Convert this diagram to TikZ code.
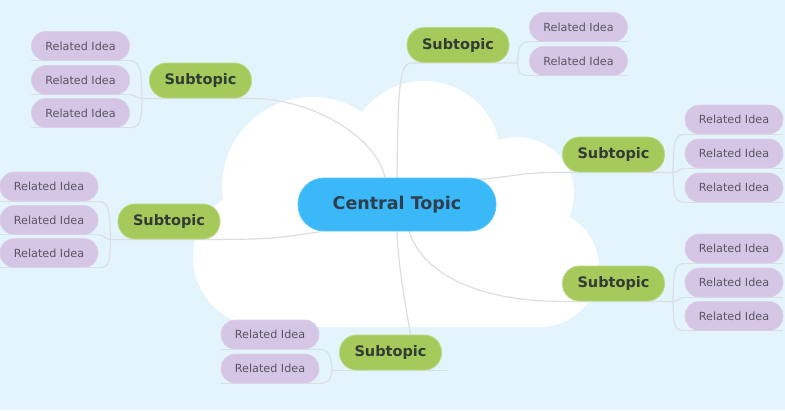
\documentclass[tikz,border=0pt]{standalone}
\usepackage{fontspec}
\setmainfont{DejaVu Sans}
\usetikzlibrary{calc}
\definecolor{bgc}{HTML}{E4F4FC}
\definecolor{lnc}{HTML}{DADFE4}
\definecolor{cenc}{HTML}{3BB8F7}
\definecolor{cenb}{HTML}{5CC6F8}
\definecolor{cent}{HTML}{2E3E4E}
\definecolor{subc}{HTML}{A6C95C}
\definecolor{subb}{HTML}{BDD987}
\definecolor{subt}{HTML}{2F3D35}
\definecolor{idc}{HTML}{D6C6E6}
\definecolor{idb}{HTML}{DDD0EA}
\definecolor{idt}{HTML}{5A5464}
\pgfdeclarelayer{cloudlayer}
\pgfdeclarelayer{linelayer}
\pgfsetlayers{cloudlayer,linelayer,main}
\tikzset{
  conn/.style={draw=lnc, line width=1.2pt},
  central/.style={fill=cenc, draw=cenb, line width=0.8pt, rounded corners=26pt,
    minimum width=198pt, minimum height=53pt, inner sep=0pt, text=cent,
    font=\fontsize{17.5}{20}\selectfont\bfseries},
  subtopic/.style={fill=subc, draw=subb, line width=0.8pt, rounded corners=17pt,
    minimum width=102pt, minimum height=35pt, inner sep=0pt, text=subt,
    font=\fontsize{14.5}{17}\selectfont\bfseries},
  idea/.style={fill=idc, draw=idb, line width=0.6pt, rounded corners=14pt,
    minimum width=98pt, minimum height=29pt, inner sep=0pt, text=idt,
    font=\fontsize{11.2}{13}\selectfont},
}
\begin{document}
\begin{tikzpicture}[x=1pt,y=-1pt]
\useasboundingbox (0,0) rectangle (785,410);
\begin{pgfonlayer}{cloudlayer}
\fill[bgc] (0,0) rectangle (785,410);
\fill[white] (312,187) circle[radius=90];
\fill[white] (424,158) circle[radius=77];
\fill[white] (517,194) circle[radius=57];
\fill[white] (540,268) circle[radius=59];
\fill[white] (263,257) circle[radius=70];
\fill[white] (250,160) rectangle (545,327);
\end{pgfonlayer}

% nodes
\node[central] (c) at (397,204.5) {Central Topic};
\node[subtopic] (s1) at (200.5,80.5) {Subtopic};
\node[subtopic] (s2) at (169,221.5) {Subtopic};
\node[subtopic] (s3) at (458,45) {Subtopic};
\node[subtopic] (s4) at (613.5,154.5) {Subtopic};
\node[subtopic] (s5) at (613.5,283.5) {Subtopic};
\node[subtopic] (s6) at (390.5,352.5) {Subtopic};

\node[idea] (r11) at (80.5,46) {Related Idea};
\node[idea] (r12) at (80.5,80) {Related Idea};
\node[idea] (r13) at (80.5,113) {Related Idea};
\node[idea] (r21) at (49,186.5) {Related Idea};
\node[idea] (r22) at (49,220) {Related Idea};
\node[idea] (r23) at (49,253) {Related Idea};
\node[idea] (r31) at (578.5,27) {Related Idea};
\node[idea] (r32) at (578.5,61) {Related Idea};
\node[idea] (r41) at (734,119.5) {Related Idea};
\node[idea] (r42) at (734,153.5) {Related Idea};
\node[idea] (r43) at (734,187.5) {Related Idea};
\node[idea] (r51) at (734,248.5) {Related Idea};
\node[idea] (r52) at (734,282.5) {Related Idea};
\node[idea] (r53) at (734,316) {Related Idea};
\node[idea] (r61) at (270,334.5) {Related Idea};
\node[idea] (r62) at (270,368.5) {Related Idea};

\coordinate (b1) at ($(s1.south west)+(-7,0)$);
\coordinate (b2) at ($(s2.south west)+(-7,0)$);
\coordinate (b3) at ($(s3.south east)+(8,0)$);
\coordinate (b4) at ($(s4.south east)+(8,0)$);
\coordinate (b5) at ($(s5.south east)+(8,0)$);
\coordinate (b6) at ($(s6.south west)+(-7,0)$);

\begin{pgfonlayer}{linelayer}
% central to subtopics
\draw[conn] ($(c.north)+(-12,0)$) .. controls +(-8,-40) and +(60,0) .. (s1.south east) -- (b1);
\draw[conn] (c.north) .. controls +(1,-80) and +(-12,0) .. ($(s3.south west)+(4,0)$) -- (b3);
\draw[conn] ($(c.north east)+(-17,2)$) .. controls +(40,-4) and +(-40,0) .. (s4.south west) -- (b4);
\draw[conn] ($(c.south)+(12,0)$) .. controls +(15,45) and +(-80,0) .. (s5.south west) -- (b5);
\draw[conn] ($(c.south west)+(25,0)$) .. controls +(-40,6) and +(50,0) .. (s2.south east) -- (b2);
\draw[conn] (c.south) .. controls +(2,50) and +(-5,-45) .. ($(s6.south)+(25,0)$);
\draw[conn] (b6) -- ($(s6.south east)+(6,0)$);
% underlines of related ideas
\foreach \r in {r11,r12,r13,r21,r22,r23,r31,r32,r41,r42,r43,r51,r52,r53,r61,r62}
  \draw[conn] (\r.south west) -- (\r.south east);
% brackets, left side
\draw[conn] (b1) .. controls +(-1,-25) and +(12,0) .. (r11.south east);
\draw[conn] (b1) .. controls +(-6,0) and +(6,0) .. (r12.south east);
\draw[conn] (b1) .. controls +(-1,20) and +(12,0) .. (r13.south east);
\draw[conn] (b2) .. controls +(-1,-25) and +(12,0) .. (r21.south east);
\draw[conn] (b2) .. controls +(-6,0) and +(6,0) .. (r22.south east);
\draw[conn] (b2) .. controls +(-1,20) and +(12,0) .. (r23.south east);
\draw[conn] (b6) .. controls +(-1,-14) and +(10,0) .. (r61.south east);
\draw[conn] (b6) .. controls +(-1,9) and +(10,0) .. (r62.south east);
% brackets, right side
\draw[conn] (b3) .. controls +(1,-14) and +(-10,0) .. (r31.south west);
\draw[conn] (b3) .. controls +(1,9) and +(-10,0) .. (r32.south west);
\draw[conn] (b4) .. controls +(1,-25) and +(-12,0) .. (r41.south west);
\draw[conn] (b4) .. controls +(6,0) and +(-6,0) .. (r42.south west);
\draw[conn] (b4) .. controls +(1,20) and +(-12,0) .. (r43.south west);
\draw[conn] (b5) .. controls +(1,-25) and +(-12,0) .. (r51.south west);
\draw[conn] (b5) .. controls +(6,0) and +(-6,0) .. (r52.south west);
\draw[conn] (b5) .. controls +(1,20) and +(-12,0) .. (r53.south west);
\end{pgfonlayer}
\end{tikzpicture}
\end{document}
